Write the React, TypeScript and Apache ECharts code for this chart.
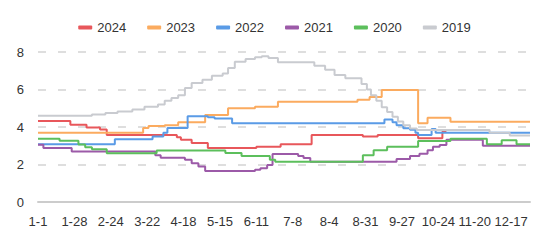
import React, { useEffect, useRef } from "react";
import * as echarts from "echarts";

// Calendar days (leap year layout) used as x categories
const monthDays = [31, 29, 31, 30, 31, 30, 31, 31, 30, 31, 30, 31];
const days: string[] = [];
monthDays.forEach((n, m) => {
  for (let d = 1; d <= n; d++) days.push(`${m + 1}-${d}`);
});

const legendNames = ["2024", "2023", "2022", "2021", "2020", "2019"];
const colors = ["#e8575b", "#fbab5f", "#5a9be6", "#9c5aa8", "#5cbf5c", "#c9cbd0"];

// step change points: [day index, value]
const s2024 = [[0,4.32],[24,4.12],[36,3.97],[46,3.87],[51,3.58],[103,3.45],[106,3.32],[114,3.15],[126,2.88],[162,2.95],[180,3.08],[203,3.57],[241,3.5],[252,3.57],[282,3.4],[300,3.75],[303,3.75]];
const s2023 = [[0,3.7],[78,3.95],[82,4.05],[94,4.1],[104,4.25],[124,4.64],[141,5.0],[161,5.08],[178,5.35],[237,5.45],[246,5.6],[255,5.97],[282,4.2],[289,4.5],[306,4.28],[365,4.28]];
const s2022 = [[0,3.08],[57,3.35],[85,3.5],[93,3.7],[96,3.95],[111,4.58],[126,4.52],[131,4.45],[144,4.2],[257,4.4],[263,4.25],[266,4.1],[271,3.94],[276,3.85],[280,3.7],[282,3.57],[292,3.9],[295,3.7],[365,3.68]];
const s2021 = [[0,3.05],[4,2.88],[25,2.7],[87,2.5],[91,2.36],[109,2.25],[114,2.07],[119,1.9],[124,1.65],[161,1.72],[165,1.8],[170,1.97],[174,2.56],[193,2.45],[197,2.35],[202,2.15],[266,2.3],[276,2.45],[283,2.57],[289,2.76],[293,2.95],[298,3.04],[303,3.32],[330,3.0],[365,3.0]];
const s2020 = [[0,3.37],[16,3.27],[30,3.07],[35,2.92],[40,2.82],[51,2.6],[88,2.75],[139,2.62],[151,2.45],[172,2.25],[176,2.15],[241,2.5],[249,2.76],[259,2.95],[282,3.25],[306,3.38],[333,3.08],[344,3.3],[355,3.08],[365,3.08]];
const s2019 = [[0,4.6],[40,4.67],[50,4.75],[59,4.83],[70,4.93],[79,5.08],[89,5.2],[94,5.4],[99,5.55],[104,5.7],[109,6.08],[114,6.35],[122,6.52],[129,6.74],[137,6.86],[141,7.15],[146,7.48],[154,7.63],[161,7.72],[166,7.78],[171,7.68],[178,7.45],[205,7.27],[213,7.05],[220,6.77],[228,6.6],[240,6.3],[244,6.0],[247,5.7],[251,5.4],[255,5.05],[259,4.8],[263,4.55],[267,4.3],[271,4.1],[276,3.92],[281,3.84],[335,3.7],[350,3.55],[365,3.55]];

const seriesData = [s2024, s2023, s2022, s2021, s2020, s2019];
const font = "Arial, 'Liberation Sans', sans-serif";

export default function App() {
  const ref = useRef<HTMLDivElement>(null);
  useEffect(() => {
    if (!ref.current) return;
    const chart = echarts.init(ref.current, undefined, { renderer: "svg" });
    chart.setOption({
      animation: false,
      color: colors,
      legend: {
        data: legendNames,
        top: 8,
        left: "center",
        itemWidth: 14,
        itemHeight: 4,
        itemGap: 21,
        icon: "roundRect",
        textStyle: { fontSize: 13, color: "#333", fontFamily: font },
      },
      grid: { left: 30, right: 11, top: 44, bottom: 40 },
      xAxis: {
        type: "category",
        data: days,
        boundaryGap: false,
        axisTick: { show: false },
        axisLine: { lineStyle: { color: "#cccccc", width: 2 } },
        axisLabel: {
          interval: 26,
          color: "#333",
          fontSize: 13,
          margin: 13,
          fontFamily: font,
        },
        splitLine: { show: false },
      },
      yAxis: {
        type: "value",
        min: 0,
        max: 8,
        interval: 2,
        axisLine: { show: false },
        axisTick: { show: false },
        axisLabel: { color: "#333", fontSize: 13, margin: 14, fontFamily: font },
        splitLine: { lineStyle: { type: [8, 12], color: "#d4d4d4", width: 1.5 } },
      },
      series: legendNames.map((name, i) => ({
        name,
        type: "line",
        step: "end",
        symbol: "none",
        data: seriesData[i],
        lineStyle: { width: 2, color: colors[i] },
        itemStyle: { color: colors[i] },
      })),
    });
    return () => chart.dispose();
  }, []);
  return <div ref={ref} style={{ width: 533, height: 234 }} />;
}
